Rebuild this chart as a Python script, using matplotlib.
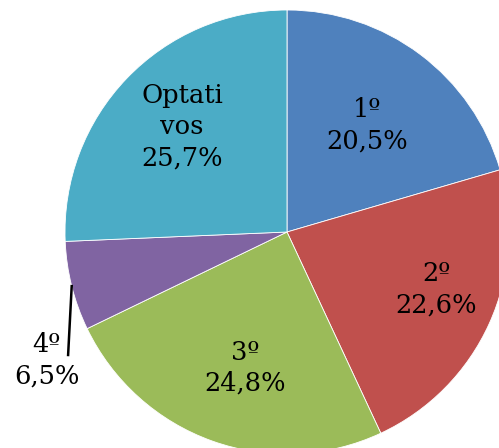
import numpy as np
import matplotlib.pyplot as plt

# shares of each group (percent)
labels = ['1º', '2º', '3º', '4º', 'Optati\nvos']
values = [20.5, 22.6, 24.8, 6.5, 25.7]
pct_text = ['20,5%', '22,6%', '24,8%', '6,5%', '25,7%']
colors = ['#4F81BD', '#C0504D', '#9BBB59', '#8064A2', '#4BACC6']

# label radius (fraction of pie radius) and angle shift in degrees
lab_r = [0.60, 0.72, 0.64, 0.0, 0.67]
lab_shift = [0.0, 3.4, 2.5, 0.0, -1.3]

plt.rcParams['font.family'] = ['DejaVu Serif']

fig = plt.figure(figsize=(4.99, 4.48), dpi=100)
ax = fig.add_axes([0, 0, 1, 1])

wedges, _ = ax.pie(values, colors=colors, startangle=90, counterclock=False,
                   wedgeprops=dict(edgecolor='white', linewidth=0.6))

for i, w in enumerate(wedges):
    mid = np.deg2rad((w.theta1 + w.theta2) / 2 + lab_shift[i])
    txt = labels[i] + '\n' + pct_text[i]
    if labels[i] == '4º':
        # outside label with leader line
        x0, y0 = np.cos(mid), np.sin(mid)
        ax.plot([x0, -0.986], [y0, -0.554], color='black', lw=1.8)
        ax.text(-1.083, -0.577, txt, ha='center', va='center',
                fontsize=18.5, linespacing=1.3)
    else:
        ax.text(lab_r[i] * np.cos(mid), lab_r[i] * np.sin(mid), txt,
                ha='center', va='center', fontsize=18.5, linespacing=1.3)

# pie radius 222 px, centre at (287, 232) px
ax.set_xlim(-287 / 222, 212 / 222)
ax.set_ylim(-216 / 222, 232 / 222)
ax.set_aspect('auto')
ax.axis('off')

plt.savefig('out.png', dpi=100)
